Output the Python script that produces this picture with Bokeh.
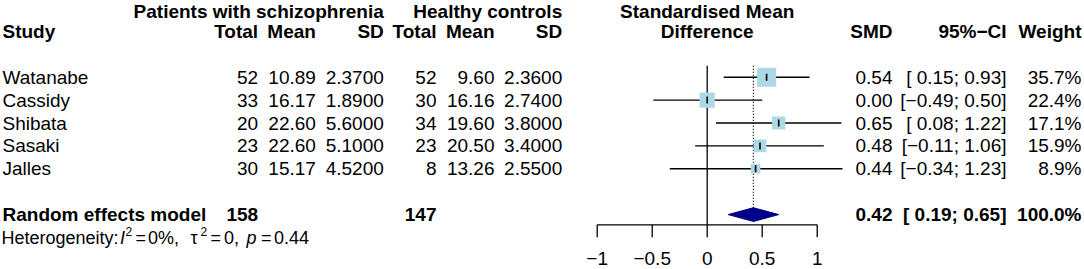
import math
from bokeh.plotting import figure
from bokeh.models import Range1d, ColumnDataSource
from bokeh.core.properties import value
from bokeh.embed import file_html
from bokeh.resources import INLINE

# ---------------- data ----------------
studies = ["Watanabe", "Cassidy", "Shibata", "Sasaki", "Jalles"]
n_e = [52, 33, 20, 23, 30]
mean_e = [10.89, 16.17, 22.60, 22.60, 15.17]
sd_e = [2.37, 1.89, 5.60, 5.10, 4.52]
n_c = [52, 30, 34, 23, 8]
mean_c = [9.60, 16.16, 19.60, 20.50, 13.26]
sd_c = [2.36, 2.74, 3.80, 3.40, 2.55]
smd = [0.54, 0.00, 0.65, 0.48, 0.44]
ci_lo = [0.15, -0.49, 0.08, -0.11, -0.34]
ci_hi = [0.93, 0.50, 1.22, 1.06, 1.23]
weight = [35.7, 22.4, 17.1, 15.9, 8.9]
pooled = 0.42
pooled_lo = 0.19
pooled_hi = 0.65
pooled_weight = 100.0
total_e = 158
total_c = 147
i2 = 0
tau2 = 0
p_het = 0.44
tick_vals = [-1, -0.5, 0, 0.5, 1]
tick_labels = ["\u22121", "\u22120.5", "0", "0.5", "1"]

# ---------------- layout ----------------
W, H = 1084, 269
FONT = "Liberation Sans"
FS = "19px"
FS_HET = "18px"
FS_SUP = "12px"
ROW0_PX = 76.7      # pixel centre of first study row
ROW_PX = 22.9       # row pitch
ZERO_PX = 706.7     # pixel of SMD = 0
UNIT_PX = 110.0     # pixels per SMD unit


def row_of(px):
    return (px - ROW0_PX) / ROW_PX


i_top = row_of(0)
i_bot = row_of(H)
I_AXIS = row_of(224.3)
I_TICK = row_of(236.7)
I_TLAB = row_of(257.5)

p = figure(width=W, height=H,
           x_range=Range1d(0, W), y_range=Range1d(i_bot, i_top),
           x_axis_type=None, y_axis_type=None,
           output_backend="svg", toolbar_location=None,
           min_border=0)
p.extra_x_ranges = {"smd": Range1d(-ZERO_PX / UNIT_PX, (W - ZERO_PX) / UNIT_PX)}
p.outline_line_color = None
p.background_fill_color = "white"
p.border_fill_color = "white"


def minus(s):
    return s.replace("-", "\u2212")


def txt(xs, ys, texts, align, bold=False, size=FS, style=None, rng="default"):
    src = ColumnDataSource(dict(x=xs, y=ys, t=texts))
    if style is None:
        style = "bold" if bold else "normal"
    p.text(x="x", y="y", text="t", source=src, text_align=align,
           text_baseline="middle", text_font=value(FONT), text_font_size=size,
           text_font_style=style, text_color="black", x_range_name=rng)


# column anchors (pixels)
X_STUDY = 2
X_TE, X_ME, X_SE = 257.6, 315.4, 383.3
X_TC, X_MC, X_SC = 436.0, 494.0, 561.7
X_SMD, X_CI, X_W = 892.0, 1006.0, 1081.0

rows = list(range(len(studies)))
R_H1 = row_of(10.5)
R_H2 = row_of(31.2)
R_POOL = len(studies) + 1
R_HET = R_POOL + 1

# headers
txt([X_SE, X_SC], [R_H1, R_H1], ["Patients with schizophrenia", "Healthy controls"], "right", True)
txt([ZERO_PX], [R_H1], ["Standardised Mean"], "center", True)
txt([ZERO_PX], [R_H2], ["Difference"], "center", True)
txt([X_STUDY], [R_H2], ["Study"], "left", True)
txt([X_TE, X_ME, X_SE, X_TC, X_MC, X_SC, X_SMD, X_CI, X_W], [R_H2] * 9,
    ["Total", "Mean", "SD", "Total", "Mean", "SD", "SMD", "95%\u2212CI", "Weight"], "right", True)

# study rows
txt([X_STUDY] * len(rows), rows, studies, "left")
txt([X_TE] * len(rows), rows, [str(v) for v in n_e], "right")
txt([X_ME] * len(rows), rows, ["%.2f" % v for v in mean_e], "right")
txt([X_SE] * len(rows), rows, ["%.4f" % v for v in sd_e], "right")
txt([X_TC] * len(rows), rows, [str(v) for v in n_c], "right")
txt([X_MC] * len(rows), rows, ["%.2f" % v for v in mean_c], "right")
txt([X_SC] * len(rows), rows, ["%.4f" % v for v in sd_c], "right")
txt([X_SMD] * len(rows), rows, [minus("%.2f" % v) for v in smd], "right")
txt([X_CI] * len(rows), rows, [minus("[%5.2f; %.2f]" % (a, b)) for a, b in zip(ci_lo, ci_hi)], "right")
txt([X_W] * len(rows), rows, ["%.1f%%" % v for v in weight], "right")

# pooled row
txt([X_STUDY], [R_POOL], ["Random effects model"], "left", True)
txt([X_TE, X_TC], [R_POOL, R_POOL], [str(total_e), str(total_c)], "right", True)
txt([X_SMD, X_CI, X_W], [R_POOL] * 3,
    [minus("%.2f" % pooled), minus("[%5.2f; %.2f]" % (pooled_lo, pooled_hi)), "%.1f%%" % pooled_weight],
    "right", True)

# heterogeneity line (pieces for italics / superscripts)
SUP = -0.25
het_pieces = [
    (1.0, 0.0, "Heterogeneity:", "normal", FS_HET),
    (119.5, 0.0, "I", "italic", FS_HET),
    (125.0, SUP, "2", "normal", FS_SUP),
    (135.0, 0.0, "=", "normal", FS_HET),
    (147.5, 0.0, "%d%%," % i2, "normal", FS_HET),
    (190.0, 0.0, "\u03c4", "normal", FS_HET),
    (200.0, SUP, "2", "normal", FS_SUP),
    (210.0, 0.0, "=", "normal", FS_HET),
    (223.5, 0.0, "%d," % tau2, "normal", FS_HET),
    (246.0, 0.0, "p", "italic", FS_HET),
    (260.5, 0.0, "=", "normal", FS_HET),
    (273.5, 0.0, "%.2f" % p_het, "normal", FS_HET),
]
for x, dy, t, style, size in het_pieces:
    txt([x], [R_HET + dy], [t], "left", size=size, style=style)

# ---------------- forest ----------------
p.segment(x0=[0], y0=[-0.5], x1=[0], y1=[I_AXIS], x_range_name="smd",
          line_color="black", line_width=1.3)
p.segment(x0=[pooled], y0=[-0.5], x1=[pooled], y1=[R_POOL - 0.3], x_range_name="smd",
          line_color="black", line_width=1.3, line_dash="1 2")
p.segment(x0=ci_lo, y0=rows, x1=ci_hi, y1=rows, x_range_name="smd",
          line_color="black", line_width=1.4)
p.scatter(x=smd, y=rows, marker="square", size=[3.2 * math.sqrt(w) for w in weight],
          fill_color="#ADD8E6", line_color=None, x_range_name="smd")
p.scatter(x=smd, y=rows, marker="dash", angle=math.pi / 2, size=7,
          line_color="black", line_width=1.6, x_range_name="smd")
p.patch(x=[pooled_lo, pooled, pooled_hi, pooled],
        y=[R_POOL, R_POOL - 0.3, R_POOL, R_POOL + 0.3],
        fill_color="#00008B", line_color="#00008B", x_range_name="smd")

# x axis (drawn on the SMD scale)
p.segment(x0=[tick_vals[0]], y0=[I_AXIS], x1=[tick_vals[-1]], y1=[I_AXIS],
          x_range_name="smd", line_color="black", line_width=1.3)
p.segment(x0=tick_vals, y0=[I_AXIS] * len(tick_vals), x1=tick_vals, y1=[I_TICK] * len(tick_vals),
          x_range_name="smd", line_color="black", line_width=1.3)
txt(tick_vals, [I_TLAB] * len(tick_vals), tick_labels, "center", rng="smd")

open("out.html", "w").write(file_html(p, INLINE))
